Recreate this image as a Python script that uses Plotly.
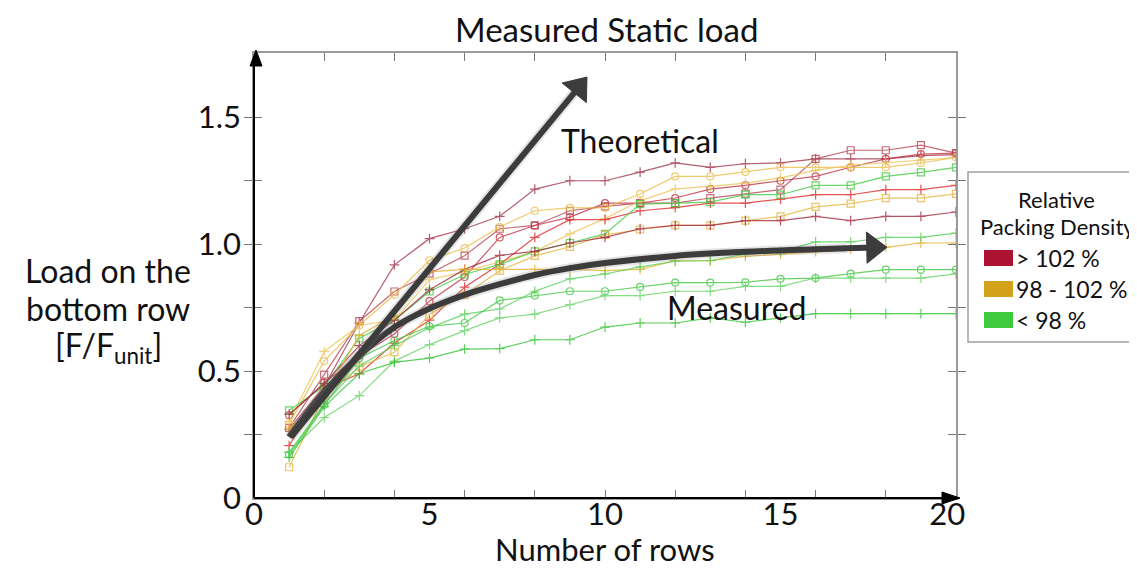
import plotly.graph_objects as go

rows = list(range(1, 21))

# > 102 % (red family)
red_plus_top   = [0.27, 0.44, 0.69, 0.918, 1.021, 1.06, 1.109, 1.216, 1.249, 1.249, 1.283, 1.319, 1.302, 1.316, 1.319, 1.335, 1.335, 1.335, 1.348, 1.352]
red_square     = [0.276, 0.486, 0.696, 0.813, 0.883, 0.954, 1.060, 1.073, 1.131, 1.148, 1.161, 1.161, 1.181, 1.198, 1.214, 1.335, 1.369, 1.369, 1.389, 1.358]
red_circle     = [0.326, 0.453, 0.56, 0.646, 0.775, 0.87, 1.026, 1.073, 1.106, 1.161, 1.161, 1.181, 1.216, 1.231, 1.249, 1.266, 1.302, 1.335, 1.354, 1.358]
red_plus_mid   = [0.206, 0.43, 0.489, 0.61, 0.70, 0.83, 0.92, 1.026, 1.096, 1.096, 1.131, 1.143, 1.161, 1.161, 1.177, 1.194, 1.194, 1.214, 1.214, 1.231]
red_plus_low   = [0.33, 0.45, 0.60, 0.70, 0.82, 0.90, 0.955, 0.971, 1.004, 1.026, 1.060, 1.073, 1.073, 1.092, 1.092, 1.109, 1.092, 1.109, 1.109, 1.126]
# 98 - 102 % (orange family)
orange_circle  = [0.291, 0.539, 0.68, 0.80, 0.936, 0.984, 1.067, 1.131, 1.142, 1.142, 1.197, 1.266, 1.266, 1.283, 1.302, 1.302, 1.302, 1.302, 1.319, 1.341]
orange_plus_hi = [0.30, 0.577, 0.68, 0.70, 0.86, 0.89, 0.93, 0.97, 1.04, 1.10, 1.17, 1.217, 1.227, 1.24, 1.26, 1.29, 1.31, 1.32, 1.33, 1.34]
orange_square  = [0.121, 0.40, 0.517, 0.574, 0.722, 0.80, 0.895, 0.953, 0.989, 1.036, 1.057, 1.073, 1.073, 1.092, 1.109, 1.146, 1.159, 1.181, 1.181, 1.197]
orange_plus_lo = [0.27, 0.40, 0.64, 0.72, 0.89, 0.90, 0.90, 0.90, 0.90, 0.895, 0.90, 0.934, 0.934, 0.951, 0.96, 0.97, 0.98, 0.987, 1.004, 1.004]
# < 98 % (green family)
green_square   = [0.345, 0.44, 0.629, 0.70, 0.813, 0.88, 0.92, 0.971, 1.004, 1.04, 1.157, 1.161, 1.165, 1.194, 1.194, 1.231, 1.231, 1.266, 1.282, 1.302]
green_plus_hi  = [0.18, 0.37, 0.52, 0.60, 0.67, 0.724, 0.744, 0.814, 0.863, 0.882, 0.91, 0.932, 0.935, 0.96, 0.97, 1.008, 1.008, 1.026, 1.026, 1.043]
green_circle   = [0.171, 0.367, 0.55, 0.62, 0.676, 0.689, 0.778, 0.797, 0.814, 0.814, 0.831, 0.848, 0.848, 0.849, 0.863, 0.866, 0.883, 0.899, 0.899, 0.899]
green_plus_mid = [0.18, 0.317, 0.403, 0.539, 0.604, 0.659, 0.709, 0.724, 0.761, 0.797, 0.797, 0.814, 0.814, 0.833, 0.833, 0.866, 0.866, 0.866, 0.866, 0.882]
green_plus_low = [0.16, 0.36, 0.49, 0.534, 0.551, 0.586, 0.588, 0.623, 0.623, 0.673, 0.689, 0.689, 0.709, 0.692, 0.709, 0.726, 0.726, 0.726, 0.726, 0.726]

# annotation arrows; last point = arrow head centre
theo_x = [1.05, 9.245]
theo_y = [0.24, 1.616]
theo_angle = 39
meas_x = [1.0, 2, 3, 4, 5, 6, 7, 8, 9, 10, 12, 14, 16, 16.9, 17.65]
meas_y = [0.24, 0.417, 0.56, 0.672, 0.746, 0.80, 0.842, 0.878, 0.905, 0.925, 0.953, 0.969, 0.979, 0.983, 0.986]
meas_angle = 89

x_label_vals = [0, 5, 10, 15, 19.75]
x_label_text = ["0", "5", "10", "15", "20"]
x_minor_ticks = [2, 4, 6, 8, 10, 12, 14, 16, 18, 20]
y_tick_vals = [0, 0.25, 0.5, 0.75, 1.0, 1.25, 1.5]
y_tick_text = ["0", "", "0.5", "", "1.0", "", "1.5"]

legend_labels = ["> 102 %", "98 - 102 %", "< 98 %"]
legend_colors = ["#AC1231", "#D3A11A", "#3DCB3D"]

FONT = "Lato"
ARROW = "#3C3C3C"

series = [
    (red_plus_top, "#A3354C", "cross-thin-open"),
    (red_square, "#B84654", "square-open"),
    (red_circle, "#C23444", "circle-open"),
    (orange_circle, "#EDBE4E", "circle-open"),
    (orange_plus_hi, "#EEC65A", "cross-thin-open"),
    (red_plus_mid, "#E02A2A", "cross-thin-open"),
    (green_square, "#44CC44", "square-open"),
    (orange_square, "#E6B640", "square-open"),
    (red_plus_low, "#A42A42", "cross-thin-open"),
    (orange_plus_lo, "#E9AE2C", "cross-thin-open"),
    (green_plus_hi, "#55D055", "cross-thin-open"),
    (green_circle, "#44C844", "circle-open"),
    (green_plus_mid, "#66D466", "cross-thin-open"),
    (green_plus_low, "#35C435", "cross-thin-open"),
]

fig = go.Figure()
for vals, col, sym in series:
    fig.add_trace(go.Scatter(
        x=rows, y=vals, mode="lines+markers",
        line=dict(color=col, width=1.2),
        marker=dict(symbol=sym, size=7, color=col, line=dict(color=col, width=1.2)),
        opacity=0.8, showlegend=False, hoverinfo="skip"))

# dummy trace for the minor tick axis
fig.add_trace(go.Scatter(x=[0, 20], y=[0, 0], xaxis="x2", mode="lines",
                         line=dict(width=0), opacity=0, showlegend=False, hoverinfo="skip"))

# measured curve (shadow + line)
fig.add_trace(go.Scatter(x=meas_x[:-1], y=meas_y[:-1], mode="lines",
                         line=dict(color="rgba(120,120,120,0.2)", width=10, shape="spline"),
                         showlegend=False, hoverinfo="skip"))
fig.add_trace(go.Scatter(x=meas_x, y=meas_y, mode="lines",
                         line=dict(color=ARROW, width=6, shape="spline"),
                         showlegend=False, hoverinfo="skip"))
# theoretical arrow
fig.add_trace(go.Scatter(x=theo_x, y=theo_y, mode="lines", line=dict(color="rgba(120,120,120,0.2)", width=10),
                         showlegend=False, hoverinfo="skip"))
fig.add_trace(go.Scatter(x=theo_x, y=theo_y, mode="lines", line=dict(color=ARROW, width=6),
                         showlegend=False, hoverinfo="skip"))
# arrow heads
fig.add_trace(go.Scatter(x=[theo_x[-1], meas_x[-1]], y=[theo_y[-1], meas_y[-1]], mode="markers",
                         marker=dict(symbol="triangle-up", size=27, color=ARROW, opacity=1,
                                     angle=[theo_angle, meas_angle], line=dict(width=1, color=ARROW)),
                         opacity=1, showlegend=False, hoverinfo="skip"))

annotations = []
annotations.append(dict(x=11.0, y=1.408, xref="x", yref="y", text="Theoretical", showarrow=False,
                        font=dict(family=FONT, size=32, color="#111")))
annotations.append(dict(x=13.75, y=0.75, xref="x", yref="y", text="Measured", showarrow=False,
                        font=dict(family=FONT, size=32, color="#111")))

L, R, T, B = 246, 948, 45, 490
def px(v):
    return (v - L) / (R - L)
def py(v):
    return (B - v) / (B - T)

annotations.append(dict(x=px(598), y=py(21), xref="paper", yref="paper", text="Measured Static load", showarrow=False,
                        font=dict(family=FONT, size=33, color="#111"), xanchor="center", yanchor="middle"))
annotations.append(dict(x=px(597), y=py(541), xref="paper", yref="paper", text="Number of rows", showarrow=False,
                        font=dict(family=FONT, size=31, color="#111"), xanchor="center", yanchor="middle"))
for txt, yy in [("Load on the", 262), ("bottom row", 300), ("[F/F<sub>unit</sub>]", 339)]:
    annotations.append(dict(x=px(100), y=py(yy), xref="paper", yref="paper", text=txt, showarrow=False,
                            font=dict(family=FONT, size=32, color="#111"), xanchor="center", yanchor="middle"))

# legend
shapes = []
shapes.append(dict(type="rect", xref="paper", yref="paper", x0=px(960), x1=px(1136), y0=py(334), y1=py(164),
                   line=dict(color="#A0A0A0", width=1.5), fillcolor="white"))
annotations.append(dict(x=px(1048), y=py(191), xref="paper", yref="paper", text="Relative", showarrow=False,
                        font=dict(family=FONT, size=22, color="#111"), xanchor="center", yanchor="middle"))
annotations.append(dict(x=px(1049), y=py(218), xref="paper", yref="paper", text="Packing Density", showarrow=False,
                        font=dict(family=FONT, size=22, color="#111"), xanchor="center", yanchor="middle"))
for i, (lab, col) in enumerate(zip(legend_labels, legend_colors)):
    yc = 250 + 31 * i
    shapes.append(dict(type="rect", xref="paper", yref="paper", x0=px(976), x1=px(1005), y0=py(yc + 8), y1=py(yc - 8),
                       line=dict(width=0), fillcolor=col))
    annotations.append(dict(x=px(1006), y=py(yc), xref="paper", yref="paper", text=lab, showarrow=False,
                            font=dict(family=FONT, size=23, color="#111"), xanchor="left", yanchor="middle"))

# black left/bottom axis lines with arrows
shapes.append(dict(type="line", xref="paper", yref="paper", x0=0, y0=0, x1=0, y1=py(52), line=dict(color="black", width=2)))
shapes.append(dict(type="line", xref="paper", yref="paper", x0=0, y0=0, x1=px(940), y1=0, line=dict(color="black", width=2)))
shapes.append(dict(type="path", xref="paper", yref="paper",
                   path=f"M {px(248)},{py(42)} L {px(242)},{py(58)} L {px(254)},{py(58)} Z",
                   fillcolor="black", line=dict(color="black", width=1)))
shapes.append(dict(type="path", xref="paper", yref="paper",
                   path=f"M {px(952)},{py(490)} L {px(934)},{py(484)} L {px(934)},{py(496)} Z",
                   fillcolor="black", line=dict(color="black", width=1)))

fig.update_layout(
    width=1137, height=569,
    margin=dict(l=L, r=1137 - R, t=T, b=569 - B),
    paper_bgcolor="white", plot_bgcolor="white",
    xaxis=dict(range=[0, 20], tickvals=x_label_vals, ticktext=x_label_text, ticks="",
               showgrid=False, zeroline=False, showline=True, mirror=True, linecolor="#9A9A9A", linewidth=1.5,
               tickfont=dict(family=FONT, size=31, color="#111"), ticklabelstandoff=-12),
    xaxis2=dict(range=[0, 20], overlaying="x", anchor="y", side="bottom", tickvals=x_minor_ticks,
                ticks="inside", ticklen=8, tickcolor="#777", mirror="ticks", showticklabels=False,
                showgrid=False, zeroline=False, showline=False),
    yaxis=dict(range=[0, (B - T) / 254.0], tickvals=y_tick_vals, ticktext=y_tick_text, ticks="inside", ticklen=8,
               tickcolor="#777", showgrid=False, zeroline=False, showline=True, mirror="allticks",
               linecolor="#9A9A9A", linewidth=1.5, tickfont=dict(family=FONT, size=31, color="#111"),
               ticklabelstandoff=5),
    annotations=annotations, shapes=shapes,
)

fig.write_html("out.html")
